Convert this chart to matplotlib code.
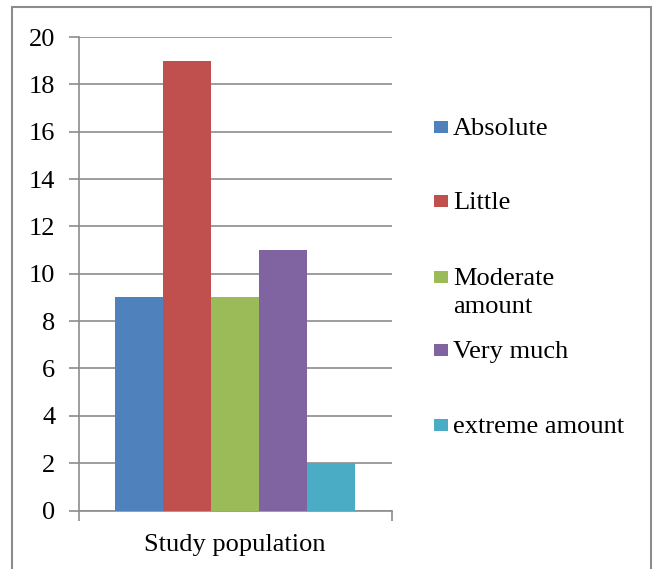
import matplotlib
matplotlib.use("Agg")
import matplotlib.pyplot as plt
from matplotlib.patches import Rectangle

categories = ["Absolute", "Little", "Moderate\namount", "Very much", "extreme amount"]
values = [9, 19, 9, 11, 2]
colors = ["#4F81BD", "#C0504D", "#9BBB59", "#8064A2", "#4BACC6"]
group_label = "Study population"
yticks = list(range(0, 21, 2))

plt.rcParams['font.family'] = ['Liberation Serif', 'DejaVu Serif']
FS = 19
W, H = 654, 569
fig = plt.figure(figsize=(W/100, H/100), dpi=100)
fig.patch.set_facecolor("white")

# outer border
fig.patches.append(Rectangle((12/W, -0.01), (651-12)/W, (H-7)/H + 0.01, transform=fig.transFigure,
                             fill=False, edgecolor="#8c8c8c", linewidth=1.5))

ax = fig.add_axes([79/W, (H-510.5)/H, (392-79)/W, (510.5-37)/H])
x = list(range(len(values)))
ax.bar(x, values, width=1.0, color=colors, zorder=3)
xmin, xmax = -1.25, 5.27
ax.set_xlim(xmin, xmax)
ax.set_ylim(0, 20)
ax.set_yticks(yticks)
ax.set_yticklabels([str(t) for t in yticks], fontsize=FS)
ax.yaxis.grid(True, color="#8c8c8c", linewidth=1.2, zorder=0)
ax.set_xticks([2])
ax.set_xticklabels([group_label], fontsize=FS)
ax.set_xticks([xmin, xmax], minor=True)
ax.tick_params(axis='x', which='major', length=0, pad=17)
ax.tick_params(axis='x', which='minor', length=7, color="#8c8c8c", width=1.2)
ax.tick_params(axis='y', length=7, color="#8c8c8c", width=1.2, pad=10)
for s in ["top", "right"]:
    ax.spines[s].set_visible(False)
for s in ["left", "bottom"]:
    ax.spines[s].set_color("#8c8c8c")
    ax.spines[s].set_linewidth(1.2)

# legend (manual, Excel-style): baselines of first line in pixels from top
legend_base = [135, 209, 285, 358, 433]
line_gap = 28
for lab, col, yb in zip(categories, colors, legend_base):
    fig.patches.append(Rectangle((434/W, (H-yb+2)/H), 13.5/W, 12.5/H, transform=fig.transFigure,
                                 facecolor=col, edgecolor="none"))
    for i, line in enumerate(lab.split("\n")):
        fig.text(453/W, (H-yb-i*line_gap)/H, line, fontsize=FS, va='baseline', ha='left')

fig.savefig("out.png", dpi=100)
